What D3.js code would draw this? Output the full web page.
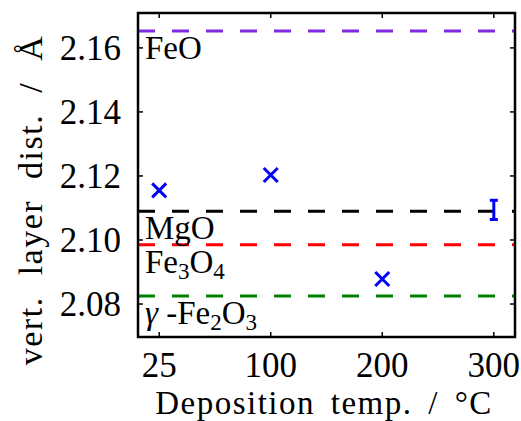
<!DOCTYPE html>
<html>
<head>
<meta charset="utf-8">
<script src="https://cdn.jsdelivr.net/npm/d3@7"></script>
<style>
  body { margin: 0; background: #fff; }
</style>
</head>
<body>
<div id="chart"></div>
<script>
// deposition temperatures (categorical axis) and measured vertical layer distances
const temps = ["25", "100", "200", "300"]
const crossTemps = ["25", "100", "200"]
const crossValues = [2.1155, 2.1203, 2.0878]
const errTemp = "300"
const errValue = 2.1094
const errSize = 0.003

// bulk reference values
const refNames = ["FeO", "MgO", "Fe3O4", "g-Fe2O3"]
const refValues = [2.1653, 2.109, 2.0985, 2.0825]
const refColors = ["#7f2ae0", "#000000", "#ff0000", "#008000"]

const yTicks = [2.08, 2.10, 2.12, 2.14, 2.16]

const W = 521, H = 421
const m = {left: 138, right: 6, top: 13, bottom: 84}
const pw = W - m.left - m.right, ph = H - m.top - m.bottom
const serif = "Liberation Serif"

const svg = d3.select("#chart").append("svg")
    .attr("width", W)
    .attr("height", H)

const x = d3.scalePoint().domain(temps).range([0, pw]).padding(0.19)
const y = d3.scaleLinear().domain([2.0697, 2.1709]).range([ph, 0])

const g = svg.append("g").attr("transform", "translate(" + m.left + "," + m.top + ")")

// reference lines
g.append("g").selectAll("line")
    .data(refValues).enter()
    .append("line")
    .attr("x1", 0).attr("x2", pw)
    .attr("y1", d => y(d)).attr("y2", d => y(d))
    .style("stroke", (d, i) => refColors[i])
    .style("stroke-width", 3)
    .style("stroke-dasharray", "17,17")

// reference labels, with subscripts
const labels = g.append("g").selectAll("text")
    .data(refValues).enter()
    .append("text")
    .attr("x", 7)
    .attr("y", d => y(d) + 28)
    .attr("font-family", serif)
    .attr("font-size", 33)

labels.each(function(d, i) {
    const t = d3.select(this)
    const name = refNames[i]
    const parts = []
    if (name.startsWith("g-")) {
        parts.push({s: "\u03b3", style: "italic"})
        parts.push({s: " -"})
    }
    const body = name.replace("g-", "")
    body.split(/(\d)/).forEach(p => {
        if (p === "") return
        if (/\d/.test(p)) parts.push({s: p, sub: true})
        else parts.push({s: p})
    })
    let down = false
    parts.forEach(p => {
        const ts = t.append("tspan").text(p.s)
        if (p.style) ts.attr("font-style", p.style)
        if (p.sub) { ts.attr("font-size", 23).attr("dy", 6); down = true }
        else if (down) { ts.attr("dy", -6); down = false }
    })
})

// crosses
const cs = 7
g.append("g").selectAll("path")
    .data(crossValues).enter()
    .append("path")
    .attr("d", (d, i) => {
        const cx = x(crossTemps[i]), cy = y(d)
        return "M" + (cx - cs) + "," + (cy - cs) + "L" + (cx + cs) + "," + (cy + cs) +
               "M" + (cx - cs) + "," + (cy + cs) + "L" + (cx + cs) + "," + (cy - cs)
    })
    .style("stroke", "#0000ff")
    .style("stroke-width", 3)
    .style("fill", "none")

// error bar
const ex = x(errTemp)
const eb = g.append("g").style("stroke", "#0000ff").style("stroke-width", 3)
eb.append("line").attr("x1", ex).attr("x2", ex)
    .attr("y1", y(errValue - errSize)).attr("y2", y(errValue + errSize))
eb.selectAll(".cap").data([errValue - errSize, errValue + errSize]).enter()
    .append("line")
    .attr("x1", ex - 4).attr("x2", ex + 4)
    .attr("y1", d => y(d)).attr("y2", d => y(d))

// frame and inward ticks on all sides
const tl = 5
const ticks = g.append("g").style("stroke", "#000").style("stroke-width", 1.5)
temps.forEach(t => {
    ticks.append("line").attr("x1", x(t)).attr("x2", x(t)).attr("y1", ph).attr("y2", ph - tl)
    ticks.append("line").attr("x1", x(t)).attr("x2", x(t)).attr("y1", 0).attr("y2", tl)
})
yTicks.forEach(v => {
    ticks.append("line").attr("x1", 0).attr("x2", tl).attr("y1", y(v)).attr("y2", y(v))
    ticks.append("line").attr("x1", pw).attr("x2", pw - tl).attr("y1", y(v)).attr("y2", y(v))
})
g.append("rect")
    .attr("width", pw).attr("height", ph)
    .style("fill", "none").style("stroke", "#000").style("stroke-width", 2.5)

// tick labels
g.append("g").selectAll("text")
    .data(temps).enter()
    .append("text")
    .attr("x", d => x(d))
    .attr("y", ph + 40)
    .attr("text-anchor", "middle")
    .attr("font-family", serif)
    .attr("font-size", 35)
    .text(d => d)

g.append("g").selectAll("text")
    .data(yTicks).enter()
    .append("text")
    .attr("x", -17)
    .attr("y", d => y(d))
    .attr("dy", "0.34em")
    .attr("text-anchor", "end")
    .attr("font-family", serif)
    .attr("font-size", 35)
    .text(d => d3.format(".2f")(d))

// axis titles
svg.append("text")
    .attr("x", 324)
    .attr("y", 414)
    .attr("text-anchor", "middle")
    .attr("font-family", serif)
    .attr("font-size", 33)
    .attr("letter-spacing", 1.5)
    .attr("word-spacing", 6)
    .text("Deposition temp. / \u00b0C")

svg.append("text")
    .attr("transform", "translate(42,200) rotate(-90)")
    .attr("text-anchor", "middle")
    .attr("font-family", serif)
    .attr("font-size", 34)
    .attr("letter-spacing", 1.5)
    .attr("word-spacing", 11)
    .text("vert. layer dist. / \u00c5")
</script>
</body>
</html>
